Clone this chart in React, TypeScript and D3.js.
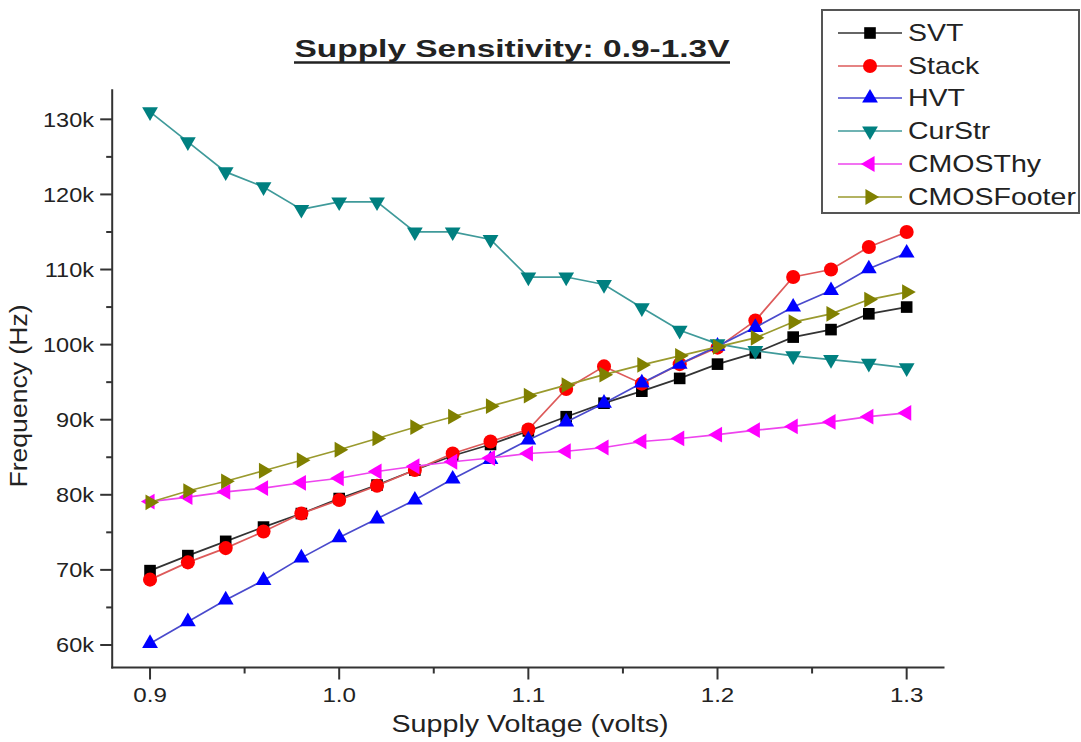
import React from "react";
import * as d3 from "d3";

// Supply voltage sweep (V)
const voltages = [0.9, 0.92, 0.94, 0.96, 0.98, 1.0, 1.02, 1.04, 1.06, 1.08, 1.1, 1.12, 1.14, 1.16, 1.18, 1.2, 1.22, 1.24, 1.26, 1.28, 1.3];

// Oscillation frequency per design (Hz)
const svt = [69900, 71900, 73800, 75700, 77500, 79500, 81300, 83300, 85200, 86700, 88500, 90400, 92200, 93800, 95500, 97400, 98900, 101000, 102000, 104100, 105000];
const stack = [68700, 71000, 72900, 75100, 77500, 79300, 81200, 83300, 85500, 87100, 88700, 94100, 97100, 94800, 97400, 99600, 103200, 109000, 110000, 113000, 115000];
const hvt = [60200, 63100, 66000, 68600, 71600, 74300, 76800, 79300, 82100, 84700, 87300, 89700, 92200, 94900, 97400, 99800, 102300, 105000, 107200, 110100, 112200];
const curStr = [131000, 127000, 123000, 121000, 118000, 119000, 119000, 115000, 115000, 114000, 109000, 109000, 108000, 104900, 101900, 100100, 99200, 98500, 98000, 97500, 96900];
const cmosThy = [79100, 79700, 80400, 80900, 81600, 82200, 83100, 83800, 84400, 84900, 85500, 85800, 86300, 87100, 87500, 88000, 88600, 89100, 89700, 90400, 90900];
const cmosFooter = [79000, 80500, 81800, 83200, 84600, 86000, 87500, 89000, 90400, 91800, 93200, 94600, 96000, 97300, 98500, 99700, 100900, 103000, 104100, 106000, 107000];

const seriesNames = ["SVT", "Stack", "HVT", "CurStr", "CMOSThy", "CMOSFooter"];
const seriesValues = [svt, stack, hvt, curStr, cmosThy, cmosFooter];
const markerColors = ["#000000", "#ff0000", "#0000ff", "#008080", "#ff00ff", "#808000"];
const lineColors = ["#333333", "#dd5a5a", "#4a4acc", "#3f9a9a", "#ee44ee", "#9a9a2e"];
const markerKinds = ["square", "circle", "up", "down", "left", "right"];

const yMajorTicks = [60000, 70000, 80000, 90000, 100000, 110000, 120000, 130000];
const yMinorTicks = [65000, 75000, 85000, 95000, 105000, 115000, 125000];
const xMajorTicks = [0.9, 1.0, 1.1, 1.2, 1.3];
const xMinorTicks = [0.95, 1.05, 1.15, 1.25];

const W = 1081;
const H = 742;
const FONT = "'Liberation Sans', Arial, Helvetica, sans-serif";

const x = d3.scaleLinear().domain([0.88, 1.32]).range([112.2, 944.5]);
const y = d3.scaleLinear().domain([57000, 134000]).range([667.5, 89.3]);

const symbolFor = (kind: string) => {
  if (kind === "square") return { path: d3.symbol(d3.symbolSquare, 135)()!, rot: 0 };
  if (kind === "circle") return { path: d3.symbol(d3.symbolCircle, 155)()!, rot: 0 };
  const tri = d3.symbol(d3.symbolTriangle, 108)()!;
  const rot = kind === "up" ? 0 : kind === "down" ? 180 : kind === "left" ? -90 : 90;
  return { path: tri, rot };
};

function SText(props: {
  x: number; y: number; size: number; sx?: number; anchor?: string; weight?: string; children: React.ReactNode;
}) {
  const { x: tx, y: ty, size, sx = 1, anchor = "start", weight = "normal", children } = props;
  return (
    <text
      transform={`translate(${tx},${ty}) scale(${sx},1)`}
      fontSize={size}
      textAnchor={anchor as any}
      fontWeight={weight}
      fontFamily={FONT}
      fill="#222"
    >
      {children}
    </text>
  );
}

const fmtK = (v: number) => `${v / 1000}k`;

export default function App() {
  const line = d3
    .line<number>()
    .x((_, i) => x(voltages[i]))
    .y((d) => y(d));

  const axisColor = "#333";
  const legendX = 822;
  const legendY = 10;
  const legendRowY = [33, 66, 98, 131, 164, 197];

  return (
    <svg
      width={W}
      height={H}
      viewBox={`0 0 ${W} ${H}`}
      style={{ position: "absolute", left: 0, top: 0, background: "#fff" }}
    >
      <rect x={0} y={0} width={W} height={H} fill="#fff" />

      {/* title */}
      <text
        x={512}
        y={57}
        fontSize={23}
        fontWeight="bold"
        textAnchor="middle"
        fontFamily={FONT}
        fill="#222"
        textLength={435}
        lengthAdjust="spacingAndGlyphs"
      >
        Supply Sensitivity: 0.9-1.3V
      </text>
      <line x1={294} x2={730} y1={62.5} y2={62.5} stroke="#222" strokeWidth={2.5} />

      {/* axes */}
      <line x1={x(0.88)} x2={x(0.88)} y1={y(134000)} y2={y(57000) + 1} stroke={axisColor} strokeWidth={2} />
      <line x1={x(0.88) - 1} x2={x(1.32)} y1={y(57000)} y2={y(57000)} stroke={axisColor} strokeWidth={2} />

      {yMajorTicks.map((t) => (
        <g key={`ym${t}`}>
          <line x1={x(0.88) - 12} x2={x(0.88)} y1={y(t)} y2={y(t)} stroke={axisColor} strokeWidth={2} />
          <SText x={94} y={y(t) + 7.5} size={21} sx={1.12} anchor="end">
            {fmtK(t)}
          </SText>
        </g>
      ))}
      {yMinorTicks.map((t) => (
        <line key={`yn${t}`} x1={x(0.88) - 6} x2={x(0.88)} y1={y(t)} y2={y(t)} stroke={axisColor} strokeWidth={2} />
      ))}
      {xMajorTicks.map((t) => (
        <g key={`xm${t}`}>
          <line x1={x(t)} x2={x(t)} y1={y(57000)} y2={y(57000) + 12} stroke={axisColor} strokeWidth={2} />
          <SText x={x(t)} y={702} size={21} sx={1.15} anchor="middle">
            {t.toFixed(1)}
          </SText>
        </g>
      ))}
      {xMinorTicks.map((t) => (
        <line key={`xn${t}`} x1={x(t)} x2={x(t)} y1={y(57000)} y2={y(57000) + 6} stroke={axisColor} strokeWidth={2} />
      ))}

      {/* axis titles */}
      <text
        x={530}
        y={732}
        fontSize={23}
        textAnchor="middle"
        fontFamily={FONT}
        fill="#222"
        textLength={277}
        lengthAdjust="spacingAndGlyphs"
      >
        Supply Voltage (volts)
      </text>
      <text
        transform={`translate(27,396) rotate(-90)`}
        fontSize={23}
        textAnchor="middle"
        fontFamily={FONT}
        fill="#222"
        textLength={183}
        lengthAdjust="spacingAndGlyphs"
      >
        Frequency (Hz)
      </text>

      {/* series */}
      {seriesValues.map((vals, si) => {
        const sym = symbolFor(markerKinds[si]);
        return (
          <g key={seriesNames[si]}>
            <path d={line(vals)!} fill="none" stroke={lineColors[si]} strokeWidth={1.7} />
            {vals.map((v, i) => (
              <path
                key={i}
                d={sym.path}
                transform={`translate(${x(voltages[i])},${y(v)}) rotate(${sym.rot})`}
                fill={markerColors[si]}
              />
            ))}
          </g>
        );
      })}

      {/* legend */}
      <rect
        x={legendX}
        y={legendY}
        width={W - legendX - 2}
        height={203}
        fill="#fff"
        stroke="#555"
        strokeWidth={2}
      />
      {seriesNames.map((name, si) => {
        const sym = symbolFor(markerKinds[si]);
        const ry = legendRowY[si];
        return (
          <g key={`lg${name}`}>
            <line x1={838} x2={902} y1={ry} y2={ry} stroke={lineColors[si]} strokeWidth={1.7} />
            <path d={sym.path} transform={`translate(870,${ry}) rotate(${sym.rot})`} fill={markerColors[si]} />
            <SText x={908} y={ry + 8} size={23} sx={1.24}>
              {name}
            </SText>
          </g>
        );
      })}
    </svg>
  );
}
